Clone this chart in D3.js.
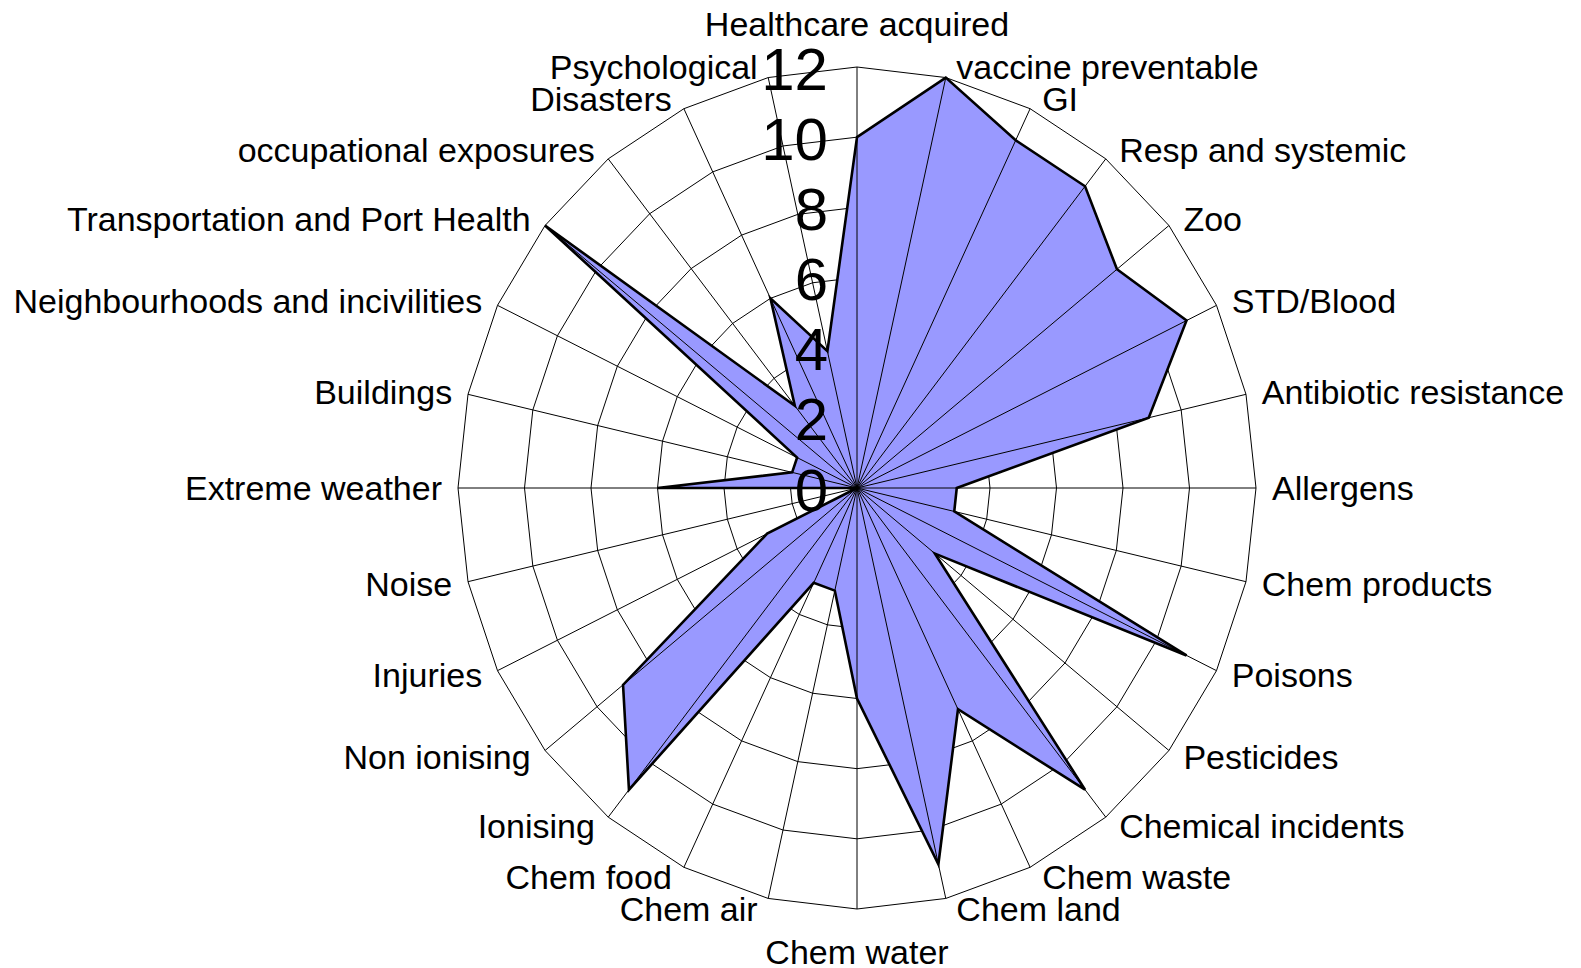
<!DOCTYPE html>
<html>
<head>
<meta charset="utf-8">
<script src="https://cdn.jsdelivr.net/npm/d3@7"></script>
<style>
  html, body { margin: 0; padding: 0; background: #fff; }
  svg { display: block; }
  .cat-label { font-family: "Liberation Sans", Arial, sans-serif; font-size: 34px; fill: #000; }
  .tick-label { font-family: "Liberation Sans", Arial, sans-serif; font-size: 60px; fill: #000; }
</style>
</head>
<body>
<svg id="chart"></svg>
<script>
'use strict';

// categories, clockwise from the top
var categories = [
  'Healthcare acquired', 'vaccine preventable', 'GI', 'Resp and systemic', 'Zoo',
  'STD/Blood', 'Antibiotic resistance', 'Allergens', 'Chem products', 'Poisons',
  'Pesticides', 'Chemical incidents', 'Chem waste', 'Chem land', 'Chem water',
  'Chem air', 'Chem food', 'Ionising', 'Non ionising', 'Injuries', 'Noise',
  'Extreme weather', 'Buildings', 'Neighbourhoods and incivilities',
  'Transportation and Port Health', 'occupational exposures', 'Disasters', 'Psychological'
];

// series values
var values = [
  10, 12, 11, 11, 10,
  11, 9, 3, 3, 11,
  3, 11, 7, 11, 6,
  3, 3, 11, 9, 3, 0,
  6, 2, 2,
  12, 3, 6, 4
];

// value axis ticks
var tickValues = [0, 2, 4, 6, 8, 10, 12];

var width = 1581,
    height = 968,
    cx = 857,
    cy = 488;

var svg = d3.select('#chart')
  .attr('width', width)
  .attr('height', height);

// the plot area is a little wider than tall, so two radial scales
var rx = d3.scaleLinear().domain([0, 12]).range([0, 399]);
var ry = d3.scaleLinear().domain([0, 12]).range([0, 421]);
var angle = d3.scaleLinear().domain([0, categories.length]).range([0, 2 * Math.PI]);

function px(i, v){ return cx + rx(v) * Math.sin(angle(i)); }
function py(i, v){ return cy - ry(v) * Math.cos(angle(i)); }

var idx = d3.range(categories.length);

// grid rings (straight segments between spokes)
svg.append('g')
  .selectAll('path')
  .data(tickValues.filter(function(t){ return t > 0; }))
  .join('path')
    .attr('d', function(t){
      return d3.line()
        .x(function(i){ return px(i, t); })
        .y(function(i){ return py(i, t); })
        .curve(d3.curveLinearClosed)(idx);
    })
    .attr('fill', 'none')
    .attr('stroke', '#000')
    .attr('stroke-width', 1);

// data polygon
svg.append('path')
  .datum(values)
  .attr('d', d3.line()
    .x(function(v, i){ return px(i, v); })
    .y(function(v, i){ return py(i, v); })
    .curve(d3.curveLinearClosed))
  .attr('fill', '#9999ff')
  .attr('stroke', 'none');

// spokes
svg.append('g')
  .selectAll('line')
  .data(idx)
  .join('line')
    .attr('x1', cx)
    .attr('y1', cy)
    .attr('x2', function(i){ return px(i, 12); })
    .attr('y2', function(i){ return py(i, 12); })
    .attr('stroke', '#000')
    .attr('stroke-width', 1);

// polygon outline on top of the spokes
svg.append('path')
  .datum(values)
  .attr('d', d3.line()
    .x(function(v, i){ return px(i, v); })
    .y(function(v, i){ return py(i, v); })
    .curve(d3.curveLinearClosed))
  .attr('fill', 'none')
  .attr('stroke', '#000')
  .attr('stroke-width', 2.6)
  .attr('stroke-linejoin', 'miter');

// category labels just outside the outer ring
svg.append('g')
  .selectAll('text')
  .data(idx)
  .join('text')
    .attr('class', 'cat-label')
    .attr('x', function(i){
      var s = Math.sin(angle(i));
      if (Math.abs(s) < 0.01) return px(i, 12);
      return px(i, 12) + (s > 0 ? 1 : -1) * (9 + 7 * Math.abs(s));
    })
    .attr('y', function(i){
      var s = Math.sin(angle(i)), c = Math.cos(angle(i));
      if (Math.abs(s) < 0.01) return py(i, 12) - 43 * c;
      return py(i, 12) - 11 * c;
    })
    .attr('text-anchor', function(i){
      var s = Math.sin(angle(i));
      if (Math.abs(s) < 0.01) return 'middle';
      return s > 0 ? 'start' : 'end';
    })
    .attr('dominant-baseline', 'central')
    .text(function(i){ return categories[i]; });

// value axis labels along the top spoke
svg.append('g')
  .selectAll('text')
  .data(tickValues)
  .join('text')
    .attr('class', 'tick-label')
    .attr('x', cx - 29)
    .attr('y', function(t){ return cy - ry(t) + 2; })
    .attr('text-anchor', 'end')
    .attr('dominant-baseline', 'central')
    .text(function(t){ return t; });
</script>
</body>
</html>
